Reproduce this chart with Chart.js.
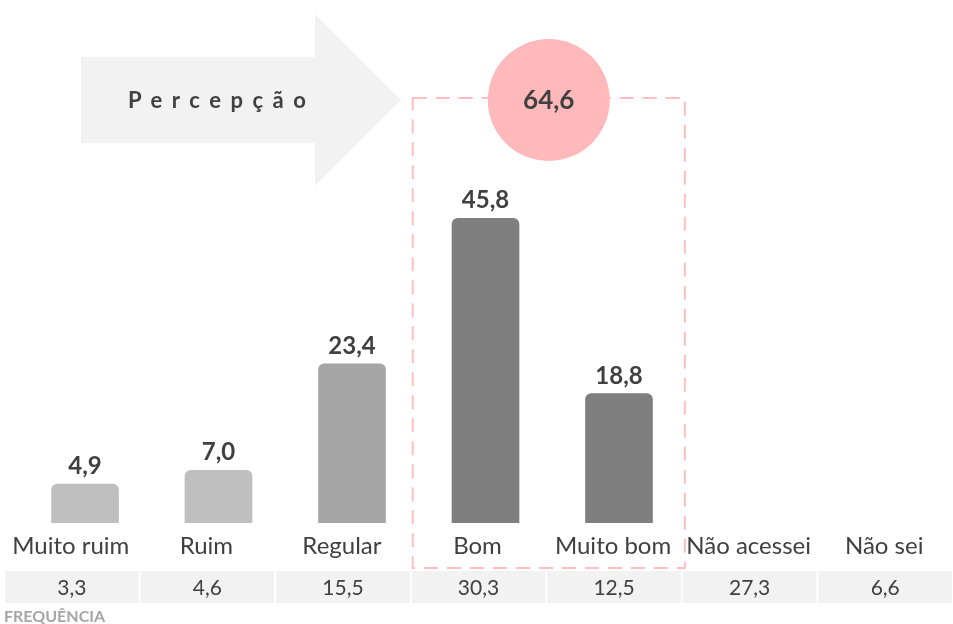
<!DOCTYPE html>
<html>
<head>
<meta charset="utf-8">
<script src="https://cdn.jsdelivr.net/npm/chart.js@4"></script>
<style>
  html, body { margin: 0; padding: 0; background: #fff; }
  #wrap { width: 953px; height: 624px; }
</style>
</head>
<body>
<div id="wrap"><canvas id="grafico" width="953" height="624"></canvas></div>
<script>
  const categorias = ['Muito ruim', 'Ruim', 'Regular', 'Bom', 'Muito bom', 'Não acessei', 'Não sei'];
  const percepcao = [4.9, 7.0, 23.4, 45.8, 18.8];
  const frequencia = [3.3, 4.6, 15.5, 30.3, 12.5, 27.3, 6.6];
  const coresBarras = ['#bfbfbf', '#bfbfbf', '#a5a5a5', '#7f7f7f', '#7f7f7f'];
  const destaque = ['Bom', 'Muito bom'];

  const FONTE = 'Lato, "Open Sans", sans-serif';
  const fmt = v => v.toFixed(1).replace('.', ',');

  /* ── Plugin: decoração, rótulos e tabela ── */
  const desenhoExtra = {
    id: 'desenhoExtra',
    afterDatasetsDraw(chart) {
      const { ctx } = chart;
      const x2 = chart.scales.x2;
      const meta = chart.getDatasetMeta(0);
      const passo = x2.getPixelForValue(1) - x2.getPixelForValue(0);

      ctx.save();

      // seta "Percepção"
      ctx.fillStyle = '#f2f2f2';
      ctx.beginPath();
      ctx.moveTo(81, 57); ctx.lineTo(315, 57); ctx.lineTo(315, 14);
      ctx.lineTo(401, 100); ctx.lineTo(315, 186); ctx.lineTo(315, 143);
      ctx.lineTo(81, 143); ctx.closePath(); ctx.fill();
      ctx.fillStyle = '#404040';
      ctx.font = `bold 22px ${FONTE}`;
      ctx.textAlign = 'left';
      ctx.textBaseline = 'middle';
      ctx.letterSpacing = '9.5px';
      ctx.fillText('Percepção', 128, 101);
      ctx.letterSpacing = '0px';

      // caixa tracejada em volta de Bom / Muito bom
      const i0 = categorias.indexOf(destaque[0]);
      const i1 = categorias.indexOf(destaque[1]);
      const bx0 = x2.getPixelForValue(i0) - passo / 2 + 2;
      const bx1 = x2.getPixelForValue(i1) + passo / 2 + 3;
      ctx.strokeStyle = '#ffbfc1';
      ctx.lineWidth = 2;
      ctx.setLineDash([14, 9]);
      ctx.strokeRect(bx0, 98, bx1 - bx0, 470);
      ctx.setLineDash([]);

      // círculo com a soma
      const soma = percepcao[i0] + percepcao[i1];
      const cx = (bx0 + bx1) / 2;
      ctx.fillStyle = '#ffb9bb';
      ctx.beginPath();
      ctx.arc(cx, 100, 61, 0, Math.PI * 2);
      ctx.fill();
      ctx.fillStyle = '#404040';
      ctx.font = `bold 26px ${FONTE}`;
      ctx.textAlign = 'center';
      ctx.fillText(fmt(soma), cx, 101);

      // valores sobre as barras
      ctx.font = `bold 24px ${FONTE}`;
      ctx.textBaseline = 'alphabetic';
      meta.data.forEach((bar, i) => {
        ctx.fillText(fmt(percepcao[i]), bar.x, bar.y - 10);
      });

      // rótulos das categorias
      ctx.font = `24px ${FONTE}`;
      ctx.textBaseline = 'middle';
      categorias.forEach((c, i) => {
        ctx.fillText(c, x2.getPixelForValue(i) - 1, 546);
      });

      // tabela de frequência
      ctx.font = `21px ${FONTE}`;
      frequencia.forEach((v, i) => {
        const xc = x2.getPixelForValue(i);
        ctx.fillStyle = '#f2f2f2';
        ctx.fillRect(xc - passo / 2 + 1, 571, passo - 2, 32);
        ctx.fillStyle = '#404040';
        ctx.fillText(fmt(v), xc, 588);
      });

      ctx.fillStyle = '#a6a6a6';
      ctx.font = `bold 16px ${FONTE}`;
      ctx.textAlign = 'left';
      ctx.fillText('FREQUÊNCIA', 4, 617);

      ctx.restore();
    }
  };

  new Chart(document.getElementById('grafico'), {
    type: 'bar',
    data: {
      datasets: [{
        data: percepcao.map((v, i) => ({ x: i, y: v })),
        backgroundColor: coresBarras,
        borderRadius: { topLeft: 6, topRight: 6 },
        borderSkipped: 'start',
        barThickness: 67,
        base: -1.1,
        xAxisID: 'x',
        yAxisID: 'y'
      }]
    },
    options: {
      responsive: false,
      animation: false,
      layout: { padding: { left: 4, right: 0, top: 100, bottom: 101 } },
      plugins: {
        legend: { display: false },
        tooltip: { enabled: false }
      },
      scales: {
        x: { type: 'linear', min: -0.607, max: 6.502, offset: false, grid: { offset: false }, display: false },
        x2: { type: 'category', labels: categorias, offset: true, display: false },
        y: { min: -1.1, max: 64, display: false }
      }
    },
    plugins: [desenhoExtra]
  });
</script>
</body>
</html>
